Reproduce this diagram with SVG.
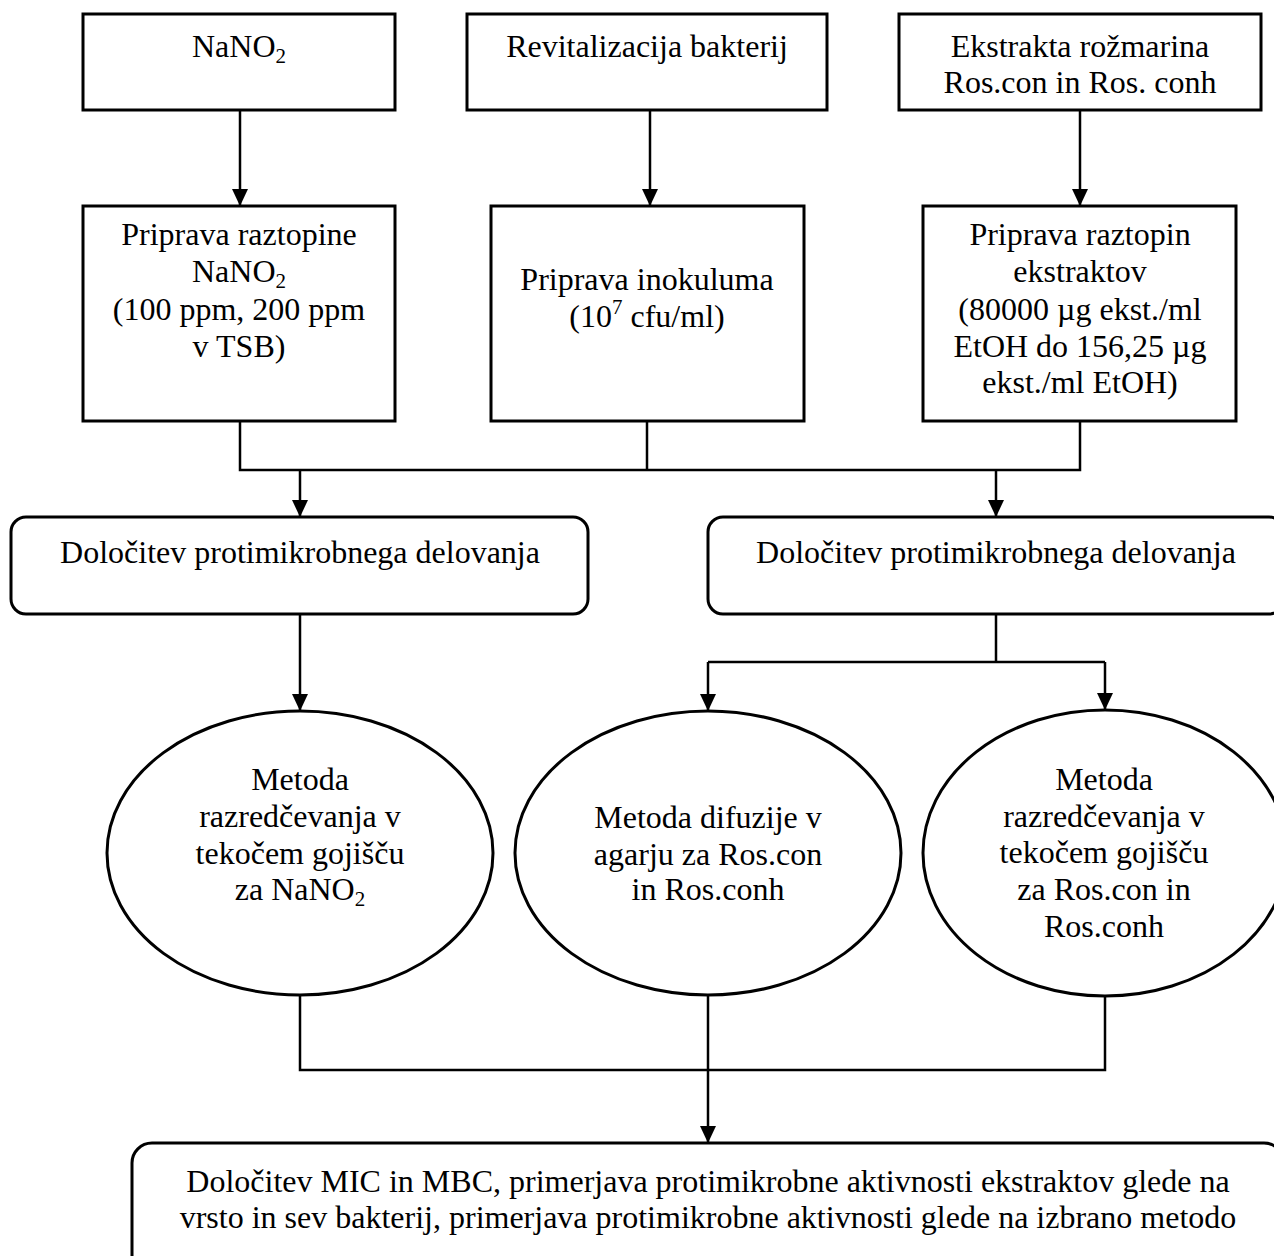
<svg xmlns="http://www.w3.org/2000/svg" width="1274" height="1256" viewBox="0 0 1274 1256">
<style>
  .box { fill: #ffffff; stroke: #000000; stroke-width: 3; }
  .conn { fill: none; stroke: #000000; stroke-width: 2.5; }
  text { font-family: "Liberation Serif", "Times New Roman", serif; font-size: 32px; fill: #000000; text-anchor: middle; }
  .sub { font-size: 21px; }
</style>
<defs>
  <marker id="ah" markerUnits="userSpaceOnUse" markerWidth="18" markerHeight="18" refX="17" refY="8" orient="auto">
    <path d="M0,0 L17,8 L0,16 Z" fill="#000000"/>
  </marker>
</defs>
<rect width="1274" height="1256" fill="#ffffff"/>

<g id="connectors">
  <path class="conn" d="M240,110 V206" marker-end="url(#ah)"/>
  <path class="conn" d="M650,110 V206" marker-end="url(#ah)"/>
  <path class="conn" d="M1080,110 V206" marker-end="url(#ah)"/>
  <path class="conn" d="M240,421 V470 H1080 V421 M647,421 V470"/>
  <path class="conn" d="M300,470 V517" marker-end="url(#ah)"/>
  <path class="conn" d="M996,470 V517" marker-end="url(#ah)"/>
  <path class="conn" d="M300,614 V711" marker-end="url(#ah)"/>
  <path class="conn" d="M996,614 V662 M708,662 H1105"/>
  <path class="conn" d="M708,662 V711" marker-end="url(#ah)"/>
  <path class="conn" d="M1105,662 V710" marker-end="url(#ah)"/>
  <path class="conn" d="M300,996 V1070 H1105 V996"/>
  <path class="conn" d="M708,996 V1143" marker-end="url(#ah)"/>
</g>

<g id="n_nano2">
  <rect class="box" x="83" y="14" width="312" height="96"/>
  <text x="239" y="57">NaNO<tspan class="sub" dy="6">2</tspan></text>
</g>
<g id="n_revitalizacija">
  <rect class="box" x="467" y="14" width="360" height="96"/>
  <text x="647" y="57">Revitalizacija bakterij</text>
</g>
<g id="n_ekstrakta">
  <rect class="box" x="899" y="14" width="362" height="96"/>
  <text x="1080" y="57">Ekstrakta rožmarina</text>
  <text x="1080" y="93">Ros.con in Ros. conh</text>
</g>

<g id="n_priprava_nano2">
  <rect class="box" x="83" y="206" width="312" height="215"/>
  <text x="239" y="245">Priprava raztopine</text>
  <text x="239" y="282">NaNO<tspan class="sub" dy="6">2</tspan></text>
  <text x="239" y="320">(100 ppm, 200 ppm</text>
  <text x="239" y="357">v TSB)</text>
</g>
<g id="n_inokulum">
  <rect class="box" x="491" y="206" width="313" height="215"/>
  <text x="647" y="290">Priprava inokuluma</text>
  <text x="647" y="327">(10<tspan class="sub" dy="-13">7</tspan><tspan dy="13"> cfu/ml)</tspan></text>
</g>
<g id="n_priprava_ekstr">
  <rect class="box" x="923" y="206" width="313" height="215"/>
  <text x="1080" y="245">Priprava raztopin</text>
  <text x="1080" y="282">ekstraktov</text>
  <text x="1080" y="320">(80000 µg ekst./ml</text>
  <text x="1080" y="357">EtOH do 156,25 µg</text>
  <text x="1080" y="393">ekst./ml EtOH)</text>
</g>

<g id="n_dolocitev_left">
  <rect class="box" x="11" y="517" width="577" height="97" rx="15" ry="15"/>
  <text x="300" y="563">Določitev protimikrobnega delovanja</text>
</g>
<g id="n_dolocitev_right">
  <rect class="box" x="708" y="517" width="576" height="97" rx="15" ry="15"/>
  <text x="996" y="563">Določitev protimikrobnega delovanja</text>
</g>

<g id="n_razr_nano2">
  <ellipse class="box" cx="300" cy="853" rx="193" ry="142"/>
  <text x="300" y="790">Metoda</text>
  <text x="300" y="827">razredčevanja v</text>
  <text x="300" y="864">tekočem gojišču</text>
  <text x="300" y="900">za NaNO<tspan class="sub" dy="6">2</tspan></text>
</g>
<g id="n_difuzija">
  <ellipse class="box" cx="708" cy="853" rx="193" ry="142"/>
  <text x="708" y="828">Metoda difuzije v</text>
  <text x="708" y="865">agarju za Ros.con</text>
  <text x="708" y="900">in Ros.conh</text>
</g>
<g id="n_razr_ros">
  <ellipse class="box" cx="1105" cy="853" rx="182" ry="143"/>
  <text x="1104" y="790">Metoda</text>
  <text x="1104" y="827">razredčevanja v</text>
  <text x="1104" y="863">tekočem gojišču</text>
  <text x="1104" y="900">za Ros.con in</text>
  <text x="1104" y="937">Ros.conh</text>
</g>

<g id="n_mic_mbc">
  <rect class="box" x="132" y="1143" width="1152" height="140" rx="20" ry="20"/>
  <text x="708" y="1192">Določitev MIC in MBC, primerjava protimikrobne aktivnosti ekstraktov glede na</text>
  <text x="708" y="1228">vrsto in sev bakterij, primerjava protimikrobne aktivnosti glede na izbrano metodo</text>
</g>
</svg>
